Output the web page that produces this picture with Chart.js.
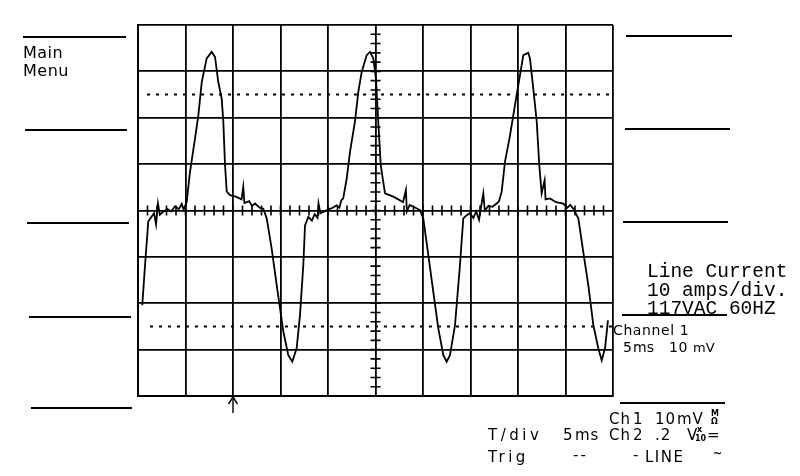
<!DOCTYPE html>
<html>
<head>
<meta charset="utf-8">
<script src="https://cdn.jsdelivr.net/npm/chart.js@4"></script>
<style>
  body { margin: 0; background: #fff; }
  #wrap { width: 800px; height: 476px; }
</style>
</head>
<body>
<div id="wrap"><canvas id="myChart" width="800" height="476"></canvas></div>
<script>
// line current trace, time in ms (5 ms/div) and current in amps (10 A/div)
const tiempo = [0.45, 0.74, 1.08, 1.4, 1.7, 1.9, 2.1, 2.3, 2.7, 3.1, 3.5, 3.9, 4.3, 4.6, 4.8, 5.0, 5.13,
  5.47, 6.0, 6.35, 6.71, 7.23, 7.76, 8.11, 8.45, 8.81, 8.98, 9.16, 9.34, 9.68, 10.3, 10.9, 11.08, 11.2, 11.7, 12.0, 12.32, 12.8, 13.19,
  13.55, 14.07, 14.6, 14.95, 15.3, 15.82, 16.24, 16.7, 17.05, 17.4, 17.58, 17.93,
  18.3, 18.6, 18.9, 19.0, 19.2, 19.5, 20.0, 20.5, 20.9, 21.2, 21.4, 21.6,
  21.97, 22.32, 22.84, 23.19, 23.55, 24.07, 24.42, 24.77, 25.05, 25.29, 25.55, 26.0, 26.87, 27.4, 27.9, 28.2, 28.3, 28.6, 29.2, 29.68,
  30.03, 30.56, 31.08, 31.61, 32.14, 32.49, 32.84, 33.37, 33.89, 34.24,
  34.6, 34.95, 35.3, 35.6, 35.9, 36.1, 36.35, 36.5, 36.9, 37.3, 37.75, 38.0, 38.28,
  38.63, 39.16, 39.68, 40.21, 40.56, 41.08, 41.26, 41.61, 41.97, 42.24, 42.49, 42.8, 42.9, 43.37, 44.0, 44.77, 45.2, 45.5, 45.82,
  46.35, 46.87, 47.4, 47.93, 48.45, 48.81, 49.16, 49.47]
const corriente = [-20.4, -11.8, -2.4, -1.4, -0.6, -3.0, 1.5, -0.9, -0.2, 0.3, -0.2, 0.9, 0.3, 1.4, 0.2, 1.2, 1.9,
  8.3, 15.5, 20.5, 27.7, 32.8, 34.2, 33.1, 27.7, 24.1, 19.2, 9.8, 4.1, 3.3, 3.0, 2.4, 5.1, 1.6, 2.0, 1.0, 1.5, 0.6, 0.4,
  -1.7, -8.2, -16.1, -21.1, -26.1, -31.2, -32.6, -29.7, -22.6, -11.8, -3.2, -1.4,
  -2.2, -0.8, -1.6, 1.5, -0.6, -0.3, 0.2, 0.6, 1.1, 0.6, 2.2, 2.6,
  6.9, 12.7, 19.2, 25.6, 29.9, 33.5, 34.2, 32.8, 28.4, 19.2, 9.8, 3.7, 3.0, 2.4, 1.8, 4.4, -0.2, 1.2, 0.6, 0.1,
  -1.7, -9.6, -17.5, -25.4, -31.2, -32.6, -31.2, -24.7, -11.8, -1.7,
  -1.0, -0.6, -1.6, -0.2, -2.0, 0.6, 3.7, 0.0, 1.0, 0.8, 1.5, 2.0, 4.0,
  10.5, 16.2, 22.7, 29.2, 33.5, 34.0, 32.8, 26.3, 19.2, 9.8, 3.7, 6.5, 2.4, 2.6, 1.8, 1.5, 0.6, 1.2, 0.4,
  -1.7, -8.9, -16.1, -24.7, -29.7, -32.3, -29.7, -23.7]

// dotted cursor lines
const cursorArriba = 25
const cursorAbajo = -25

// scope screen: 10 x 8 divisions
const tMin = 0, tMax = 50, tDiv = 5
const iMin = -40, iMax = 40, iDiv = 10

function crearDatos() {
  const traza = tiempo.map((t, i) => ({ x: t, y: corriente[i] }))
  return {
    datasets: [
      { data: traza, borderColor: "#000", borderWidth: 1.8, pointRadius: 0, tension: 0 },
      { data: [{ x: 0.95, y: cursorArriba }, { x: tMax, y: cursorArriba }], borderColor: "#000", borderWidth: 2, borderDash: [3, 6], pointRadius: 0 },
      { data: [{ x: 1.26, y: cursorAbajo }, { x: tMax, y: cursorAbajo }], borderColor: "#000", borderWidth: 2, borderDash: [3, 6], pointRadius: 0 }
    ]
  }
}

// minor ticks on the centre axes
const marcasCentro = {
  id: "marcasCentro",
  beforeDatasetsDraw(chart) {
    const { ctx, scales: { x, y } } = chart
    const y0 = y.getPixelForValue(0)
    const x0 = x.getPixelForValue(25)
    ctx.save()
    ctx.strokeStyle = "#000"
    ctx.lineWidth = 1.6
    ctx.beginPath()
    for (let t = 1; t < tMax; t++) {
      const px = x.getPixelForValue(t)
      ctx.moveTo(px, y0 - 5)
      ctx.lineTo(px, y0 + 5)
    }
    for (let a = iMin + 2; a < iMax; a += 2) {
      const py = y.getPixelForValue(a)
      ctx.moveTo(x0 - 5, py)
      ctx.lineTo(x0 + 5, py)
    }
    ctx.stroke()
    ctx.restore()
  }
}

function texto(ctx, s, x, y, font, espacio) {
  ctx.font = font
  ctx.letterSpacing = (espacio || 0) + "px"
  ctx.fillText(s, x, y)
}

function raya(ctx, x1, y1, x2, y2) {
  ctx.beginPath()
  ctx.moveTo(x1, y1)
  ctx.lineTo(x2, y2)
  ctx.stroke()
}

// menu softkey lines and screen readouts
const rotulos = {
  id: "rotulos",
  afterDraw(chart) {
    const ctx = chart.ctx
    const { x } = chart.scales
    ctx.save()
    ctx.fillStyle = "#000"
    ctx.strokeStyle = "#000"
    ctx.lineWidth = 1.8
    ctx.textBaseline = "alphabetic"

    // left softkeys
    raya(ctx, 23, 37, 126, 37)
    raya(ctx, 25, 130, 127, 130)
    raya(ctx, 27, 223, 129, 223)
    raya(ctx, 29, 317, 131, 317)
    raya(ctx, 31, 408, 132, 408)
    // right softkeys
    raya(ctx, 626, 36, 732, 36)
    raya(ctx, 625, 129, 730, 129)
    raya(ctx, 623, 222, 728, 222)
    raya(ctx, 622, 315, 727, 315)
    raya(ctx, 620, 403, 725, 403)

    const sans = "15px 'DejaVu Sans'"
    texto(ctx, "Main", 23, 58, "16px 'DejaVu Sans'", 0.5)
    texto(ctx, "Menu", 23, 76, "16px 'DejaVu Sans'", 0.5)

    const mono = "19.5px 'Liberation Mono'"
    texto(ctx, "Line Current", 647, 277, mono)
    texto(ctx, "10 amps/div.", 647, 296, mono)
    texto(ctx, "117VAC 60HZ", 647, 314, mono)

    texto(ctx, "Channel 1", 613, 335, "14px 'DejaVu Sans'", 0.6)
    texto(ctx, "5", 623, 352, "14px 'DejaVu Sans'")
    texto(ctx, "ms", 633, 352, "14px 'DejaVu Sans'")
    texto(ctx, "10", 669, 352, "14px 'DejaVu Sans'", 0.6)
    texto(ctx, "mV", 693, 352, "13px 'DejaVu Sans'")

    // bottom readout
    texto(ctx, "Ch", 609, 424, sans, 1)
    texto(ctx, "1", 633, 424, sans)
    texto(ctx, "10", 655, 424, sans, 1)
    texto(ctx, "mV", 677, 424, sans, 1)
    texto(ctx, "M", 711, 416, "bold 8px 'DejaVu Sans'")
    texto(ctx, "Ω", 711, 424, "bold 8px 'DejaVu Sans'")

    texto(ctx, "T/div", 488, 440, sans, 3.5)
    texto(ctx, "5", 563, 440, sans)
    texto(ctx, "ms", 575, 440, sans, 1)
    texto(ctx, "Ch", 609, 440, sans, 1)
    texto(ctx, "2", 633, 440, sans)
    texto(ctx, ".2", 655, 440, sans, 1)
    texto(ctx, "V", 687, 440, sans)
    texto(ctx, "x", 697, 432, "bold 8px 'DejaVu Sans'")
    texto(ctx, "10", 695, 441, "bold 8px 'DejaVu Sans'")
    texto(ctx, "=", 707, 440, sans)

    texto(ctx, "Trig", 488, 462, sans, 3.5)
    texto(ctx, "--", 573, 460, sans, 2)
    texto(ctx, "-", 633, 460, sans)
    texto(ctx, "LINE", 645, 462, sans, 1.5)
    texto(ctx, "~", 713, 457, "bold 11px 'DejaVu Sans'")

    // trigger arrow under the screen
    const xa = x.getPixelForValue(10)
    ctx.lineWidth = 1.4
    raya(ctx, xa, 397, xa, 413)
    raya(ctx, xa - 4.5, 404, xa, 397)
    raya(ctx, xa + 4.5, 404, xa, 397)
    ctx.restore()
  }
}

const config = {
  type: "line",
  data: crearDatos(),
  options: {
    responsive: false,
    animation: false,
    layout: { padding: { left: 138, right: 187, top: 25, bottom: 80 } },
    plugins: { legend: { display: false }, tooltip: { enabled: false } },
    scales: {
      x: {
        type: "linear", min: tMin, max: tMax,
        ticks: { display: false, stepSize: tDiv },
        grid: { color: "#000", lineWidth: 1.8, drawTicks: false },
        border: { display: true, color: "#000", width: 2 }
      },
      y: {
        min: iMin, max: iMax,
        ticks: { display: false, stepSize: iDiv },
        grid: { color: "#000", lineWidth: 1.8, drawTicks: false },
        border: { display: true, color: "#000", width: 2 }
      }
    }
  },
  plugins: [marcasCentro, rotulos]
}

const canvas = document.querySelector("#myChart")
canvas.style.backgroundColor = "white"
const myChart = new Chart(canvas, config)
</script>
</body>
</html>
